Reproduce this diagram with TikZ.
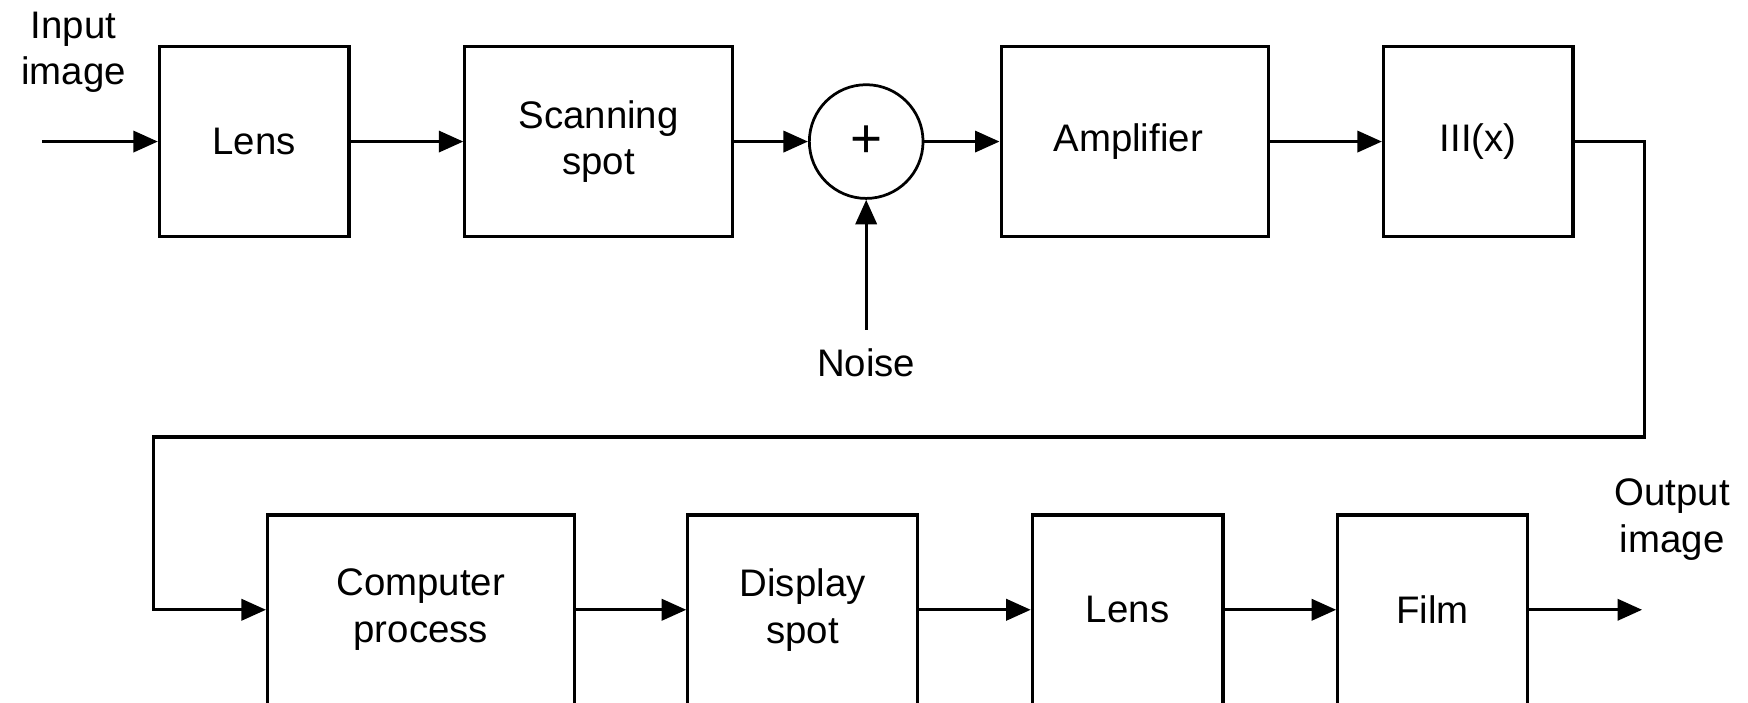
\documentclass[tikz,border=0pt]{standalone}
\usepackage{fontspec}
\setmainfont{Liberation Sans}
\usetikzlibrary{arrows.meta}
\begin{document}
\begin{tikzpicture}[x=0.1mm, y=-0.1mm,
  every node/.style={font=\fontsize{9.8}{11.9}\selectfont},
  block/.style={draw, line width=0.8pt, minimum height=170*0.1mm, inner sep=0pt, align=center},
  sumnode/.style={draw, circle, line width=0.7pt, minimum size=102*0.1mm, inner sep=0pt},
  label/.style={align=center, inner sep=0pt},
  flow/.style={line width=0.8pt, -{Triangle[length=2.2mm, width=1.9mm]}}]
\useasboundingbox (0,0) rectangle (1568,630);
\clip (0,0) rectangle (1568,630);

% upper chain
\node[block, minimum width=170*0.1mm] (lensA) at (228,127) {Lens};
\node[block, minimum width=240*0.1mm] (scan) at (537,127) {Scanning\\spot};
\node[sumnode, font=\fontsize{14}{14}\selectfont] (sum) at (777,127) {+};
\node[block, minimum width=240*0.1mm] (amp) at (1018,127) {\hspace*{-1.2mm}Amplifier};
\node[block, minimum width=170*0.1mm] (comb) at (1326,127) {III(x)};

% lower chain
\node[block, minimum width=275*0.1mm] (comp) at (377.5,547) {Computer\\process};
\node[block, minimum width=206*0.1mm] (disp) at (720,547) {Display\\spot};
\node[block, minimum width=171*0.1mm] (lensB) at (1011.5,547) {Lens};
\node[block, minimum width=170*0.1mm] (film) at (1285,547) {Film};

% labels
\node[label] (inlbl) at (66,47) {Input\\image};
\node[label] (outlbl) at (1500,466) {Output\\image};
\node[label] (noiselbl) at (777,325) {Noise};

% free ends
\coordinate (inp) at (38,127);
\coordinate (outp) at (1473,547);
\coordinate (noisep) at (777,296);
\coordinate (fbR) at (1475,392);
\coordinate (fbL) at (138,392);

% connectors
\draw[flow] (inp) -- (lensA);
\draw[flow] (lensA) -- (scan);
\draw[flow] (scan) -- (sum);
\draw[flow] (sum) -- (amp);
\draw[flow] (amp) -- (comb);
\draw[flow] (noisep) -- (sum.south);
\draw[flow] (comb.east) -| (fbR) -- (fbL) |- (comp.west);
\draw[flow] (comp) -- (disp);
\draw[flow] (disp) -- (lensB);
\draw[flow] (lensB) -- (film);
\draw[flow] (film) -- (outp);
\end{tikzpicture}
\end{document}
